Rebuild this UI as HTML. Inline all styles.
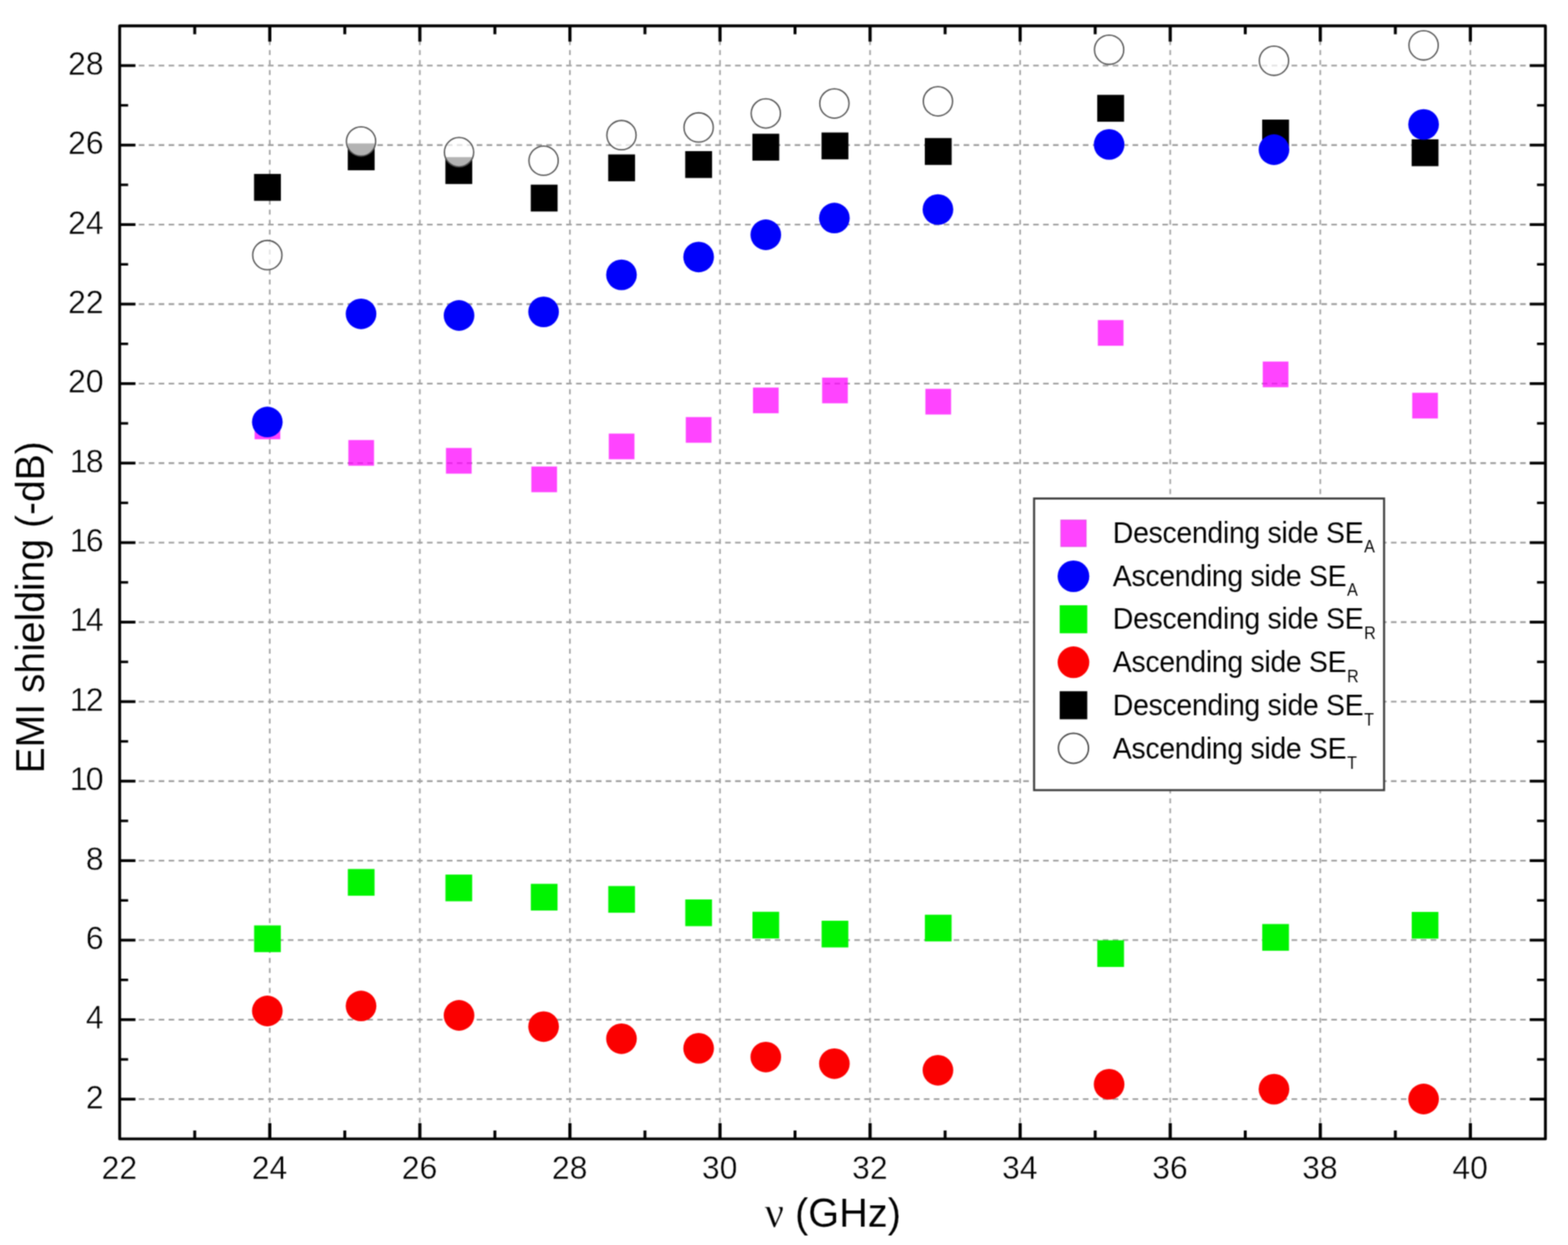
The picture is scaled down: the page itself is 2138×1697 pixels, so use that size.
<!DOCTYPE html>
<html lang="en"><head><meta charset="utf-8">
<title>EMI shielding vs frequency</title>
<style>
html,body{margin:0;padding:0;background:#fff;}
body{width:2138px;height:1697px;overflow:hidden;}
svg{display:block;}
text{font-family:"Liberation Sans",Arial,Helvetica,sans-serif;fill:#000;stroke:#fff;stroke-width:0.5px;}
.leg{stroke-width:0.05px;}
.lab{stroke-width:0.15px;}
.tk{font-size:43.7px;}
.lab{font-size:53.25px;}
.leg{font-size:38.8px;letter-spacing:-0.42px;}
.sub{font-size:22px;letter-spacing:0;}
.nu{font-family:"Liberation Serif","DejaVu Serif",serif;font-size:58px;stroke-width:0.5px;}
</style></head><body>
<svg width="2138" height="1697" viewBox="0 0 2138 1697" role="img" aria-label="EMI shielding versus frequency scatter chart">
<defs><filter id="soft" filterUnits="userSpaceOnUse" x="0" y="0" width="2138" height="1697" color-interpolation-filters="sRGB">
<feConvolveMatrix order="5" kernelMatrix="0.00023 0.00332 0.00809 0.00332 0.00023 0.00332 0.04785 0.11640 0.04785 0.00332 0.00809 0.11640 0.28313 0.11640 0.00809 0.00332 0.04785 0.11640 0.04785 0.00332 0.00023 0.00332 0.00809 0.00332 0.00023" divisor="1" edgeMode="duplicate" preserveAlpha="false"/>
</filter></defs>
<g filter="url(#soft)">
<rect x="0" y="0" width="2138" height="1697" fill="#fff"/>
<g fill="none" stroke="#9c9c9c" stroke-width="2.3" stroke-dasharray="7.6 5.95">
<line x1="162.2" y1="1498.21" x2="2107.2" y2="1498.21"/>
<line x1="162.2" y1="1389.84" x2="2107.2" y2="1389.84"/>
<line x1="162.2" y1="1281.47" x2="2107.2" y2="1281.47"/>
<line x1="162.2" y1="1173.1" x2="2107.2" y2="1173.1"/>
<line x1="162.2" y1="1064.73" x2="2107.2" y2="1064.73"/>
<line x1="162.2" y1="956.36" x2="2107.2" y2="956.36"/>
<line x1="162.2" y1="847.99" x2="2107.2" y2="847.99"/>
<line x1="162.2" y1="739.61" x2="2107.2" y2="739.61"/>
<line x1="162.2" y1="631.24" x2="2107.2" y2="631.24"/>
<line x1="162.2" y1="522.87" x2="2107.2" y2="522.87"/>
<line x1="162.2" y1="414.5" x2="2107.2" y2="414.5"/>
<line x1="162.2" y1="306.13" x2="2107.2" y2="306.13"/>
<line x1="162.2" y1="197.76" x2="2107.2" y2="197.76"/>
<line x1="162.2" y1="89.39" x2="2107.2" y2="89.39"/>
</g>
<g fill="none" stroke="#a2a2a2" stroke-width="2.2" stroke-dasharray="6.8 6.8">
<line x1="367.83" y1="1543.8" x2="367.83" y2="35.2"/>
<line x1="572.46" y1="1543.8" x2="572.46" y2="35.2"/>
<line x1="777.09" y1="1543.8" x2="777.09" y2="35.2"/>
<line x1="981.73" y1="1543.8" x2="981.73" y2="35.2"/>
<line x1="1186.36" y1="1543.8" x2="1186.36" y2="35.2"/>
<line x1="1390.99" y1="1543.8" x2="1390.99" y2="35.2"/>
<line x1="1595.62" y1="1543.8" x2="1595.62" y2="35.2"/>
<line x1="1800.25" y1="1543.8" x2="1800.25" y2="35.2"/>
<line x1="2004.88" y1="1543.8" x2="2004.88" y2="35.2"/>
</g>
<g fill="none" stroke="#000" stroke-linecap="butt">
<line x1="265.52" y1="1552.4" x2="265.52" y2="1540.9" stroke-width="4"/>
<line x1="265.52" y1="35.2" x2="265.52" y2="46.7" stroke-width="4"/>
<line x1="367.83" y1="1552.4" x2="367.83" y2="1530.9" stroke-width="4.3"/>
<line x1="367.83" y1="35.2" x2="367.83" y2="56.7" stroke-width="4.3"/>
<line x1="470.15" y1="1552.4" x2="470.15" y2="1540.9" stroke-width="4"/>
<line x1="470.15" y1="35.2" x2="470.15" y2="46.7" stroke-width="4"/>
<line x1="572.46" y1="1552.4" x2="572.46" y2="1530.9" stroke-width="4.3"/>
<line x1="572.46" y1="35.2" x2="572.46" y2="56.7" stroke-width="4.3"/>
<line x1="674.78" y1="1552.4" x2="674.78" y2="1540.9" stroke-width="4"/>
<line x1="674.78" y1="35.2" x2="674.78" y2="46.7" stroke-width="4"/>
<line x1="777.09" y1="1552.4" x2="777.09" y2="1530.9" stroke-width="4.3"/>
<line x1="777.09" y1="35.2" x2="777.09" y2="56.7" stroke-width="4.3"/>
<line x1="879.41" y1="1552.4" x2="879.41" y2="1540.9" stroke-width="4"/>
<line x1="879.41" y1="35.2" x2="879.41" y2="46.7" stroke-width="4"/>
<line x1="981.73" y1="1552.4" x2="981.73" y2="1530.9" stroke-width="4.3"/>
<line x1="981.73" y1="35.2" x2="981.73" y2="56.7" stroke-width="4.3"/>
<line x1="1084.04" y1="1552.4" x2="1084.04" y2="1540.9" stroke-width="4"/>
<line x1="1084.04" y1="35.2" x2="1084.04" y2="46.7" stroke-width="4"/>
<line x1="1186.36" y1="1552.4" x2="1186.36" y2="1530.9" stroke-width="4.3"/>
<line x1="1186.36" y1="35.2" x2="1186.36" y2="56.7" stroke-width="4.3"/>
<line x1="1288.67" y1="1552.4" x2="1288.67" y2="1540.9" stroke-width="4"/>
<line x1="1288.67" y1="35.2" x2="1288.67" y2="46.7" stroke-width="4"/>
<line x1="1390.99" y1="1552.4" x2="1390.99" y2="1530.9" stroke-width="4.3"/>
<line x1="1390.99" y1="35.2" x2="1390.99" y2="56.7" stroke-width="4.3"/>
<line x1="1493.31" y1="1552.4" x2="1493.31" y2="1540.9" stroke-width="4"/>
<line x1="1493.31" y1="35.2" x2="1493.31" y2="46.7" stroke-width="4"/>
<line x1="1595.62" y1="1552.4" x2="1595.62" y2="1530.9" stroke-width="4.3"/>
<line x1="1595.62" y1="35.2" x2="1595.62" y2="56.7" stroke-width="4.3"/>
<line x1="1697.94" y1="1552.4" x2="1697.94" y2="1540.9" stroke-width="4"/>
<line x1="1697.94" y1="35.2" x2="1697.94" y2="46.7" stroke-width="4"/>
<line x1="1800.25" y1="1552.4" x2="1800.25" y2="1530.9" stroke-width="4.3"/>
<line x1="1800.25" y1="35.2" x2="1800.25" y2="56.7" stroke-width="4.3"/>
<line x1="1902.57" y1="1552.4" x2="1902.57" y2="1540.9" stroke-width="4"/>
<line x1="1902.57" y1="35.2" x2="1902.57" y2="46.7" stroke-width="4"/>
<line x1="2004.88" y1="1552.4" x2="2004.88" y2="1530.9" stroke-width="4.3"/>
<line x1="2004.88" y1="35.2" x2="2004.88" y2="56.7" stroke-width="4.3"/>
<line x1="163.2" y1="1498.21" x2="184.7" y2="1498.21" stroke-width="3.8"/>
<line x1="2107.2" y1="1498.21" x2="2085.7" y2="1498.21" stroke-width="3.8"/>
<line x1="163.2" y1="1444.03" x2="174.7" y2="1444.03" stroke-width="3.4"/>
<line x1="2107.2" y1="1444.03" x2="2095.7" y2="1444.03" stroke-width="3.4"/>
<line x1="163.2" y1="1389.84" x2="184.7" y2="1389.84" stroke-width="3.8"/>
<line x1="2107.2" y1="1389.84" x2="2085.7" y2="1389.84" stroke-width="3.8"/>
<line x1="163.2" y1="1335.66" x2="174.7" y2="1335.66" stroke-width="3.4"/>
<line x1="2107.2" y1="1335.66" x2="2095.7" y2="1335.66" stroke-width="3.4"/>
<line x1="163.2" y1="1281.47" x2="184.7" y2="1281.47" stroke-width="3.8"/>
<line x1="2107.2" y1="1281.47" x2="2085.7" y2="1281.47" stroke-width="3.8"/>
<line x1="163.2" y1="1227.29" x2="174.7" y2="1227.29" stroke-width="3.4"/>
<line x1="2107.2" y1="1227.29" x2="2095.7" y2="1227.29" stroke-width="3.4"/>
<line x1="163.2" y1="1173.1" x2="184.7" y2="1173.1" stroke-width="3.8"/>
<line x1="2107.2" y1="1173.1" x2="2085.7" y2="1173.1" stroke-width="3.8"/>
<line x1="163.2" y1="1118.91" x2="174.7" y2="1118.91" stroke-width="3.4"/>
<line x1="2107.2" y1="1118.91" x2="2095.7" y2="1118.91" stroke-width="3.4"/>
<line x1="163.2" y1="1064.73" x2="184.7" y2="1064.73" stroke-width="3.8"/>
<line x1="2107.2" y1="1064.73" x2="2085.7" y2="1064.73" stroke-width="3.8"/>
<line x1="163.2" y1="1010.54" x2="174.7" y2="1010.54" stroke-width="3.4"/>
<line x1="2107.2" y1="1010.54" x2="2095.7" y2="1010.54" stroke-width="3.4"/>
<line x1="163.2" y1="956.36" x2="184.7" y2="956.36" stroke-width="3.8"/>
<line x1="2107.2" y1="956.36" x2="2085.7" y2="956.36" stroke-width="3.8"/>
<line x1="163.2" y1="902.17" x2="174.7" y2="902.17" stroke-width="3.4"/>
<line x1="2107.2" y1="902.17" x2="2095.7" y2="902.17" stroke-width="3.4"/>
<line x1="163.2" y1="847.99" x2="184.7" y2="847.99" stroke-width="3.8"/>
<line x1="2107.2" y1="847.99" x2="2085.7" y2="847.99" stroke-width="3.8"/>
<line x1="163.2" y1="793.8" x2="174.7" y2="793.8" stroke-width="3.4"/>
<line x1="2107.2" y1="793.8" x2="2095.7" y2="793.8" stroke-width="3.4"/>
<line x1="163.2" y1="739.61" x2="184.7" y2="739.61" stroke-width="3.8"/>
<line x1="2107.2" y1="739.61" x2="2085.7" y2="739.61" stroke-width="3.8"/>
<line x1="163.2" y1="685.43" x2="174.7" y2="685.43" stroke-width="3.4"/>
<line x1="2107.2" y1="685.43" x2="2095.7" y2="685.43" stroke-width="3.4"/>
<line x1="163.2" y1="631.24" x2="184.7" y2="631.24" stroke-width="3.8"/>
<line x1="2107.2" y1="631.24" x2="2085.7" y2="631.24" stroke-width="3.8"/>
<line x1="163.2" y1="577.06" x2="174.7" y2="577.06" stroke-width="3.4"/>
<line x1="2107.2" y1="577.06" x2="2095.7" y2="577.06" stroke-width="3.4"/>
<line x1="163.2" y1="522.87" x2="184.7" y2="522.87" stroke-width="3.8"/>
<line x1="2107.2" y1="522.87" x2="2085.7" y2="522.87" stroke-width="3.8"/>
<line x1="163.2" y1="468.69" x2="174.7" y2="468.69" stroke-width="3.4"/>
<line x1="2107.2" y1="468.69" x2="2095.7" y2="468.69" stroke-width="3.4"/>
<line x1="163.2" y1="414.5" x2="184.7" y2="414.5" stroke-width="3.8"/>
<line x1="2107.2" y1="414.5" x2="2085.7" y2="414.5" stroke-width="3.8"/>
<line x1="163.2" y1="360.31" x2="174.7" y2="360.31" stroke-width="3.4"/>
<line x1="2107.2" y1="360.31" x2="2095.7" y2="360.31" stroke-width="3.4"/>
<line x1="163.2" y1="306.13" x2="184.7" y2="306.13" stroke-width="3.8"/>
<line x1="2107.2" y1="306.13" x2="2085.7" y2="306.13" stroke-width="3.8"/>
<line x1="163.2" y1="251.94" x2="174.7" y2="251.94" stroke-width="3.4"/>
<line x1="2107.2" y1="251.94" x2="2095.7" y2="251.94" stroke-width="3.4"/>
<line x1="163.2" y1="197.76" x2="184.7" y2="197.76" stroke-width="3.8"/>
<line x1="2107.2" y1="197.76" x2="2085.7" y2="197.76" stroke-width="3.8"/>
<line x1="163.2" y1="143.57" x2="174.7" y2="143.57" stroke-width="3.4"/>
<line x1="2107.2" y1="143.57" x2="2095.7" y2="143.57" stroke-width="3.4"/>
<line x1="163.2" y1="89.39" x2="184.7" y2="89.39" stroke-width="3.8"/>
<line x1="2107.2" y1="89.39" x2="2085.7" y2="89.39" stroke-width="3.8"/>
</g>
<rect x="163.2" y="35.2" width="1944" height="1517.2" fill="none" stroke="#000" stroke-width="3.9" stroke-linejoin="round"/>
<g class="tk" text-anchor="middle">
<text transform="translate(162.8 1607.3) scale(1 1.025)">22</text>
<text transform="translate(367.43 1607.3) scale(1 1.025)">24</text>
<text transform="translate(572.06 1607.3) scale(1 1.025)">26</text>
<text transform="translate(776.69 1607.3) scale(1 1.025)">28</text>
<text transform="translate(981.33 1607.3) scale(1 1.025)">30</text>
<text transform="translate(1185.96 1607.3) scale(1 1.025)">32</text>
<text transform="translate(1390.59 1607.3) scale(1 1.025)">34</text>
<text transform="translate(1595.22 1607.3) scale(1 1.025)">36</text>
<text transform="translate(1799.85 1607.3) scale(1 1.025)">38</text>
<text transform="translate(2004.48 1607.3) scale(1 1.025)">40</text>
</g>
<g class="tk" text-anchor="end">
<text transform="translate(141.4 1510.71) scale(1 1.025)">2</text>
<text transform="translate(141.4 1402.34) scale(1 1.025)">4</text>
<text transform="translate(141.4 1293.97) scale(1 1.025)">6</text>
<text transform="translate(141.4 1185.6) scale(1 1.025)">8</text>
<text dx="0 -2.3" transform="translate(141.4 1077.23) scale(1 1.025)">10</text>
<text dx="0 -2.3" transform="translate(141.4 968.86) scale(1 1.025)">12</text>
<text dx="0 -2.3" transform="translate(141.4 860.49) scale(1 1.025)">14</text>
<text dx="0 -2.3" transform="translate(141.4 752.11) scale(1 1.025)">16</text>
<text dx="0 -2.3" transform="translate(141.4 643.74) scale(1 1.025)">18</text>
<text transform="translate(141.4 535.37) scale(1 1.025)">20</text>
<text transform="translate(141.4 427) scale(1 1.025)">22</text>
<text transform="translate(141.4 318.63) scale(1 1.025)">24</text>
<text transform="translate(141.4 210.26) scale(1 1.025)">26</text>
<text transform="translate(141.4 101.89) scale(1 1.025)">28</text>
</g>
<text class="lab" text-anchor="middle" transform="translate(59.7 827.85) rotate(-90) scale(1 1.045)">EMI shielding (-dB)</text>
<text class="lab" style="font-size:54.2px" text-anchor="middle" transform="translate(1135.6 1672.2) scale(1 1.03)"><tspan class="nu">ν</tspan> (GHz)</text>
<g fill="#ff00ff" fill-opacity="0.735" stroke="#ff00ff" stroke-opacity="0.3" stroke-width="1.2">
<rect x="347.5" y="564" width="34.4" height="34.4"/>
<rect x="475.3" y="600.1" width="34.4" height="34.4"/>
<rect x="608.4" y="610.9" width="34.4" height="34.4"/>
<rect x="724.8" y="636.2" width="34.4" height="34.4"/>
<rect x="830.4" y="591.3" width="34.4" height="34.4"/>
<rect x="935.4" y="568.8" width="34.4" height="34.4"/>
<rect x="1027" y="528.6" width="34.4" height="34.4"/>
<rect x="1121.3" y="515" width="34.4" height="34.4"/>
<rect x="1262.1" y="530.3" width="34.4" height="34.4"/>
<rect x="1497.2" y="436.6" width="34.4" height="34.4"/>
<rect x="1722.1" y="493.1" width="34.4" height="34.4"/>
<rect x="1925.9" y="535.7" width="34.4" height="34.4"/>
</g>
<g fill="#00f400">
<rect x="346.5" y="1261.4" width="36.4" height="36.4"/>
<rect x="474.3" y="1184.5" width="36.4" height="36.4"/>
<rect x="607.4" y="1192.1" width="36.4" height="36.4"/>
<rect x="723.8" y="1204.7" width="36.4" height="36.4"/>
<rect x="829.4" y="1207.7" width="36.4" height="36.4"/>
<rect x="934.4" y="1226" width="36.4" height="36.4"/>
<rect x="1026" y="1242.8" width="36.4" height="36.4"/>
<rect x="1120.3" y="1255" width="36.4" height="36.4"/>
<rect x="1261.1" y="1246.8" width="36.4" height="36.4"/>
<rect x="1496.2" y="1281.6" width="36.4" height="36.4"/>
<rect x="1721.1" y="1259.5" width="36.4" height="36.4"/>
<rect x="1924.9" y="1243" width="36.4" height="36.4"/>
</g>
<g fill="#000">
<rect x="346.4" y="237.1" width="36.6" height="36.6"/>
<rect x="474.2" y="195.5" width="36.6" height="36.6"/>
<rect x="607.3" y="214.2" width="36.6" height="36.6"/>
<rect x="723.7" y="251.7" width="36.6" height="36.6"/>
<rect x="829.3" y="210.5" width="36.6" height="36.6"/>
<rect x="934.3" y="206" width="36.6" height="36.6"/>
<rect x="1025.9" y="182.3" width="36.6" height="36.6"/>
<rect x="1120.2" y="180.6" width="36.6" height="36.6"/>
<rect x="1261" y="188.2" width="36.6" height="36.6"/>
<rect x="1496.1" y="129.3" width="36.6" height="36.6"/>
<rect x="1721" y="163" width="36.6" height="36.6"/>
<rect x="1924.8" y="189.9" width="36.6" height="36.6"/>
</g>
<g fill="#0000fb">
<circle cx="364.5" cy="575.2" r="20.9"/>
<circle cx="492.3" cy="427.8" r="20.9"/>
<circle cx="625.9" cy="430" r="20.9"/>
<circle cx="741.2" cy="425.1" r="20.9"/>
<circle cx="847.4" cy="374.6" r="20.9"/>
<circle cx="952.6" cy="350.3" r="20.9"/>
<circle cx="1044.2" cy="320" r="20.9"/>
<circle cx="1137.7" cy="297.2" r="20.9"/>
<circle cx="1278.9" cy="285.6" r="20.9"/>
<circle cx="1512.3" cy="196.9" r="20.9"/>
<circle cx="1737.1" cy="204" r="20.9"/>
<circle cx="1941.1" cy="169.6" r="20.9"/>
</g>
<g fill="#fb0000">
<circle cx="364.5" cy="1378" r="20.9"/>
<circle cx="492.3" cy="1371.2" r="20.9"/>
<circle cx="625.9" cy="1384" r="20.9"/>
<circle cx="741.2" cy="1399.3" r="20.9"/>
<circle cx="847.4" cy="1415.8" r="20.9"/>
<circle cx="952.6" cy="1428.9" r="20.9"/>
<circle cx="1044.2" cy="1440.8" r="20.9"/>
<circle cx="1137.7" cy="1449.8" r="20.9"/>
<circle cx="1278.9" cy="1458.8" r="20.9"/>
<circle cx="1512.3" cy="1477.9" r="20.9"/>
<circle cx="1737.1" cy="1484.6" r="20.9"/>
<circle cx="1941.1" cy="1498" r="20.9"/>
</g>
<g fill="#fff" fill-opacity="0.7" stroke="#505050" stroke-width="1.8">
<circle cx="364.5" cy="347.7" r="19.95"/>
<circle cx="492.3" cy="192.8" r="19.95"/>
<circle cx="625.9" cy="207.4" r="19.95"/>
<circle cx="741.2" cy="219" r="19.95"/>
<circle cx="847.4" cy="184.2" r="19.95"/>
<circle cx="952.6" cy="173.7" r="19.95"/>
<circle cx="1044.2" cy="154.6" r="19.95"/>
<circle cx="1137.7" cy="141.1" r="19.95"/>
<circle cx="1278.9" cy="138.1" r="19.95"/>
<circle cx="1512.3" cy="67.8" r="19.95"/>
<circle cx="1737.1" cy="82.8" r="19.95"/>
<circle cx="1941.1" cy="61.8" r="19.95"/>
</g>
<rect x="1410" y="679.5" width="477.2" height="397.5" fill="#fff" stroke="#3c3c3c" stroke-width="2.8"/>
<rect x="1446.3" y="708.7" width="34.8" height="36.4" fill="#ff00ff" fill-opacity="0.735" stroke="#c030c0" stroke-opacity="0.45" stroke-width="1.2"/>
<text class="leg" transform="translate(1517.3 739.6) scale(1 1.05)">Descending side SE<tspan class="sub" dx="1" dy="13.14">A</tspan></text>
<circle cx="1463.7" cy="785.5" r="21.6" fill="#0000fb"/>
<text class="leg" transform="translate(1517.3 798.5) scale(1 1.05)">Ascending side SE<tspan class="sub" dx="1" dy="13.14">A</tspan></text>
<rect x="1444.9" y="825" width="37.6" height="38.2" fill="#00f400"/>
<text class="leg" transform="translate(1517.3 857.4) scale(1 1.05)">Descending side SE<tspan class="sub" dx="1" dy="13.14">R</tspan></text>
<circle cx="1463.7" cy="902.7" r="21.6" fill="#fb0000"/>
<text class="leg" transform="translate(1517.3 916.3) scale(1 1.05)">Ascending side SE<tspan class="sub" dx="1" dy="13.14">R</tspan></text>
<rect x="1444.9" y="942.2" width="37.6" height="38.2" fill="#000"/>
<text class="leg" transform="translate(1517.3 975.2) scale(1 1.05)">Descending side SE<tspan class="sub" dx="1" dy="13.14">T</tspan></text>
<circle cx="1463.7" cy="1019.9" r="20.5" fill="#fff" stroke="#484848" stroke-width="2"/>
<text class="leg" transform="translate(1517.3 1034.1) scale(1 1.05)">Ascending side SE<tspan class="sub" dx="1" dy="13.14">T</tspan></text>
</g>
</svg>
</body></html>
